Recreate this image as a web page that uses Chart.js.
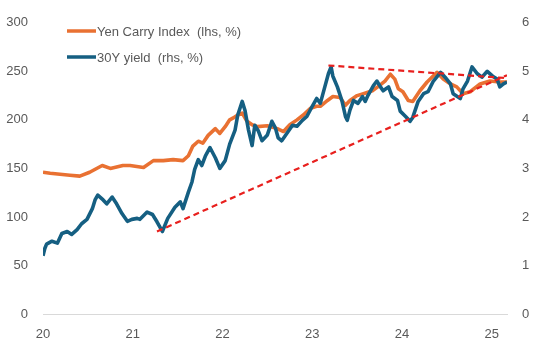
<!DOCTYPE html>
<html>
<head>
<meta charset="utf-8">
<script src="https://cdn.jsdelivr.net/npm/chart.js@4.4.1/dist/chart.umd.min.js"></script>
<style>
  html, body { margin: 0; padding: 0; background: #fff; }
  #wrap { width: 543px; height: 352px; position: relative; }
</style>
</head>
<body>
<div id="wrap"><canvas id="chart"></canvas></div>
<script>
// years as 20 = 2020, 21 = 2021 ...
const yenYears = [20.00,20.08,20.19,20.30,20.41,20.52,20.66,20.75,20.89,20.97,21.12,21.23,21.34,21.45,21.56,21.62,21.67,21.73,21.78,21.84,21.92,21.97,22.03,22.08,22.12,22.17,22.22,22.27,22.33,22.39,22.50,22.61,22.68,22.75,22.83,22.90,22.98,23.05,23.09,23.17,23.23,23.31,23.37,23.42,23.50,23.57,23.67,23.73,23.81,23.87,23.92,23.96,24.01,24.07,24.12,24.20,24.28,24.39,24.46,24.54,24.61,24.68,24.76,24.87,24.98,25.09,25.17];
const yenCarry = [146,145,144,143,142,146,153,150,153,153,151,158,158,159,158,163,173,178,176,184,191,186,193,200,202,205,207,199,195,193,194,191,188,195,200,205,212,214,214,220,224,223,215,220,225,227,230,234,240,247,242,232,229,220,219,230,239,249,242,237,234,227,229,237,240,239,239];

const yieldYears = [20.00,20.02,20.04,20.10,20.16,20.21,20.27,20.32,20.38,20.43,20.49,20.55,20.58,20.61,20.67,20.71,20.77,20.82,20.88,20.94,20.99,21.05,21.08,21.16,21.22,21.27,21.33,21.39,21.47,21.53,21.56,21.62,21.66,21.69,21.73,21.77,21.81,21.86,21.92,21.97,22.03,22.08,22.14,22.17,22.22,22.25,22.29,22.33,22.36,22.40,22.44,22.50,22.55,22.59,22.62,22.66,22.72,22.78,22.83,22.89,22.94,23.00,23.05,23.09,23.14,23.18,23.21,23.23,23.28,23.33,23.37,23.39,23.42,23.46,23.51,23.56,23.59,23.62,23.68,23.72,23.76,23.79,23.85,23.89,23.95,23.98,24.04,24.09,24.12,24.18,24.24,24.29,24.35,24.43,24.48,24.54,24.57,24.65,24.68,24.73,24.78,24.84,24.89,24.95,25.01,25.06,25.09,25.13,25.17];
const yield30y = [1.20,1.35,1.44,1.50,1.46,1.66,1.70,1.64,1.74,1.86,1.95,2.17,2.35,2.45,2.35,2.27,2.41,2.27,2.07,1.91,1.95,1.97,1.95,2.10,2.05,1.90,1.70,1.97,2.20,2.31,2.17,2.51,2.72,2.98,3.18,3.06,3.26,3.43,3.22,3.00,3.16,3.50,3.79,4.10,4.38,4.20,3.79,3.47,3.89,3.77,3.57,3.69,3.97,3.83,3.63,3.57,3.73,3.89,3.87,3.99,4.07,4.28,4.44,4.34,4.68,4.95,5.09,4.90,4.68,4.40,4.07,3.99,4.20,4.40,4.34,4.48,4.38,4.50,4.70,4.80,4.68,4.60,4.68,4.48,4.40,4.18,4.07,3.97,4.05,4.38,4.54,4.58,4.80,4.98,4.88,4.74,4.54,4.44,4.64,4.80,5.09,4.95,4.88,5.00,4.90,4.84,4.68,4.74,4.78];

// trend lines (lhs scale)
const lowerTrendYears = [21.27, 25.17];
const lowerTrend = [85, 246];
const upperTrendYears = [23.18, 25.17];
const upperTrend = [256, 243];

const leftTicks = [0, 300, 50];
const rightTicks = [0, 6, 1];
const yearTicks = [20, 25.17];

const ORANGE = '#e97132';
const BLUE = '#155f82';
const RED = '#e8201e';
const GREY_TXT = '#595959';
const FONT = "'Liberation Sans', Arial, sans-serif";

function pairs(xs, ys) {
    return xs.map((x, i) => ({ x: x, y: ys[i] }));
}

// legend drawn inside the plot, top left
const insideLegend = {
    id: 'insideLegend',
    afterDraw(chart) {
        const ctx = chart.ctx;
        const items = chart.data.datasets.filter(d => d.showInLegend);
        ctx.save();
        ctx.font = '13px ' + FONT;
        ctx.textBaseline = 'middle';
        items.forEach((d, i) => {
            const y = 31 + i * 26;
            ctx.strokeStyle = d.borderColor;
            ctx.lineWidth = 3.5;
            ctx.beginPath();
            ctx.moveTo(67, y);
            ctx.lineTo(96, y);
            ctx.stroke();
            ctx.fillStyle = GREY_TXT;
            ctx.fillText(d.label, 97, y + 1);
        });
        ctx.restore();
    }
};

const ctx = document.getElementById('chart').getContext('2d');
const myChart = new Chart(ctx, {
    type: 'line',
    data: {
        datasets: [
            { label: 'lower trend', data: pairs(lowerTrendYears, lowerTrend), yAxisID: 'y',
              borderColor: RED, borderWidth: 2.2, borderDash: [6, 4], order: 0 },
            { label: 'upper trend', data: pairs(upperTrendYears, upperTrend), yAxisID: 'y',
              borderColor: RED, borderWidth: 2.2, borderDash: [6, 4], order: 0 },
            { label: 'Yen Carry Index  (lhs, %)', data: pairs(yenYears, yenCarry), yAxisID: 'y',
              borderColor: ORANGE, borderWidth: 3.6, order: 2, showInLegend: true },
            { label: '30Y yield  (rhs, %)', data: pairs(yieldYears, yield30y), yAxisID: 'y1',
              borderColor: BLUE, borderWidth: 3.6, order: 1, showInLegend: true }
        ]
    },
    options: {
        responsive: true,
        maintainAspectRatio: false,
        animation: false,
        elements: { point: { radius: 0 }, line: { tension: 0, borderJoinStyle: 'round' } },
        layout: { padding: { top: 18, bottom: 0, left: 0, right: 0 } },
        plugins: { legend: { display: false }, tooltip: { enabled: false } },
        scales: {
            x: {
                type: 'linear',
                min: yearTicks[0],
                max: yearTicks[1],
                grid: { display: false, drawTicks: false },
                border: { display: true, color: '#d9d9d9', width: 1 },
                afterFit: s => { s.height = 38; },
                ticks: { stepSize: 1, includeBounds: false, padding: 13, color: GREY_TXT,
                         font: { size: 13, family: FONT }, maxRotation: 0, autoSkip: false,
                         callback: v => Number.isInteger(v) ? String(v) : '' }
            },
            y: {
                position: 'left',
                min: leftTicks[0], max: leftTicks[1],
                grid: { display: false, drawTicks: false },
                border: { display: false },
                afterFit: s => { s.width = 43; },
                ticks: { stepSize: leftTicks[2], padding: 15, color: GREY_TXT, font: { size: 13, family: FONT } }
            },
            y1: {
                position: 'right',
                min: rightTicks[0], max: rightTicks[1],
                grid: { display: false, drawTicks: false },
                border: { display: false },
                afterFit: s => { s.width = 36; },
                ticks: { stepSize: rightTicks[2], padding: 15, color: GREY_TXT, font: { size: 13, family: FONT } }
            }
        }
    },
    plugins: [insideLegend]
});
</script>
</body>
</html>
